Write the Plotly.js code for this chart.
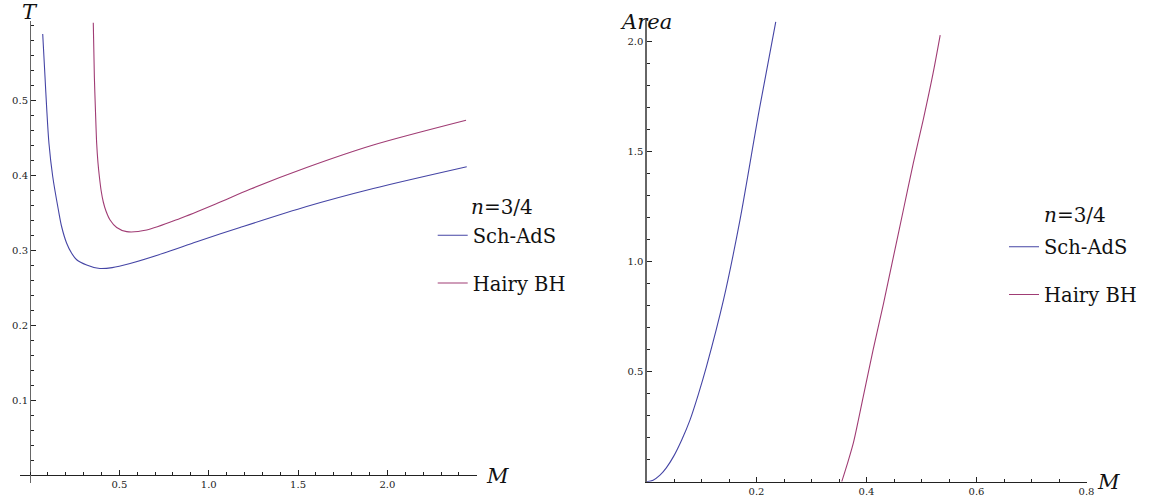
<!DOCTYPE html>
<html>
<head>
<meta charset="utf-8">
<script src="https://cdn.plot.ly/plotly-3.0.1.min.js"></script>
<style>
html,body{margin:0;padding:0;background:#fff;}
#chart{width:1151px;height:504px;}
</style>
</head>
<body>
<div id="chart"></div>
<script>
// ---- Data ----
// Left panel: temperature T versus mass M
const schM_T = [0.071, 0.084, 0.093, 0.106, 0.127, 0.159, 0.177, 0.205, 0.233, 0.261, 0.317, 0.382, 0.46, 0.560, 0.746, 0.933, 1.175, 1.548, 1.921, 2.444];
const schT    = [0.588, 0.530, 0.490, 0.442, 0.398, 0.353, 0.331, 0.309, 0.2956, 0.287, 0.280, 0.2756, 0.2765, 0.282, 0.2956, 0.311, 0.330, 0.358, 0.382, 0.411];
const hairyM_T = [0.354, 0.360, 0.366, 0.373, 0.380, 0.388, 0.398, 0.410, 0.425, 0.448, 0.485, 0.541, 0.653, 0.839, 1.045, 1.231, 1.548, 1.921, 2.440];
const hairyT    = [0.603, 0.531, 0.487, 0.442, 0.417, 0.398, 0.379, 0.364, 0.352, 0.340, 0.330, 0.3245, 0.3267, 0.342, 0.362, 0.381, 0.410, 0.440, 0.473];

// Right panel: horizon area versus mass M
const schM_A = [0, 0.012, 0.0245, 0.036, 0.049, 0.064, 0.079, 0.094, 0.109, 0.140, 0.170, 0.205, 0.235];
const schArea = [0, 0.007, 0.03, 0.063, 0.114, 0.19, 0.28, 0.395, 0.523, 0.826, 1.19, 1.69, 2.09];
const hairyM_A = [0.355, 0.365, 0.376, 0.394, 0.412, 0.431, 0.449, 0.467, 0.485, 0.503, 0.521, 0.534];
const hairyArea = [0, 0.08, 0.175, 0.386, 0.599, 0.811, 1.023, 1.235, 1.447, 1.644, 1.856, 2.03];

// Series names and tick labels
const seriesNames = ["Sch-AdS", "Hairy BH"];
const legendTitle = "<i>n</i>=3/4";
const leftXTickVals = [0.5, 1.0, 1.5, 2.0];
const leftXTickText = ["0.5", "1.0", "1.5", "2.0"];
const leftYTickVals = [0.1, 0.2, 0.3, 0.4, 0.5];
const leftYTickText = ["0.1", "0.2", "0.3", "0.4", "0.5"];
const rightXTickVals = [0.2, 0.4, 0.6, 0.8];
const rightXTickText = ["0.2", "0.4", "0.6", "0.8"];
const rightYTickVals = [0.5, 1.0, 1.5, 2.0];
const rightYTickText = ["0.5", "1.0", "1.5", "2.0"];

// ---- Styling / layout ----
const W = 1151, H = 504;
const SERIF = "DejaVu Serif";
const BLUE = "#4545a5";
const PINK = "#a03c74";
const px = v => v / W;
const py = v => 1 - v / H;

const lineStyle = c => ({color: c, width: 1.1, shape: "spline", smoothing: 0.8});

const traces = [
  {x: schM_T, y: schT, name: seriesNames[0], mode: "lines", line: lineStyle(BLUE), xaxis: "x", yaxis: "y", legend: "legend", legendgroup: "a"},
  {x: hairyM_T, y: hairyT, name: seriesNames[1], mode: "lines", line: lineStyle(PINK), xaxis: "x", yaxis: "y", legend: "legend", legendgroup: "b"},
  {x: schM_A, y: schArea, name: seriesNames[0], mode: "lines", line: lineStyle(BLUE), xaxis: "x2", yaxis: "y2", legend: "legend2", legendgroup: "c"},
  {x: hairyM_A, y: hairyArea, name: seriesNames[1], mode: "lines", line: lineStyle(PINK), xaxis: "x2", yaxis: "y2", legend: "legend2", legendgroup: "d"}
];

const tickFont = {family: SERIF, size: 10, color: "#222"};
const axisBase = {
  showgrid: false, zeroline: false, showline: true,
  ticks: "inside", ticklen: 5, tickwidth: 1, tickcolor: "#222",
  tickfont: tickFont, tickmode: "array", fixedrange: true
};

const legendBase = {
  xanchor: "left", yanchor: "top",
  font: {family: SERIF, size: 19.5, color: "#111"},
  bgcolor: "rgba(0,0,0,0)", borderwidth: 0,
  traceorder: "grouped", tracegroupgap: 19.5, itemwidth: 30
};

const layout = {
  width: W, height: H,
  margin: {l: 0, r: 0, t: 0, b: 0},
  paper_bgcolor: "#fff", plot_bgcolor: "#fff",
  showlegend: true,
  font: {family: SERIF},
  xaxis: Object.assign({}, axisBase, {
    domain: [px(20.2), px(476.75)], range: [-0.055, 2.5],
    anchor: "free", position: py(475),
    tickvals: leftXTickVals, ticktext: leftXTickText,
    linecolor: "#222", linewidth: 1.2,
    minor: {dtick: 0.1, tick0: 0, ticklen: 3, ticks: "inside", tickcolor: "#222"}
  }),
  yaxis: Object.assign({}, axisBase, {
    domain: [py(483.25), py(21.25)], range: [-0.011, 0.605],
    anchor: "free", position: px(30),
    tickvals: leftYTickVals, ticktext: leftYTickText,
    linecolor: "#666", linewidth: 1.2,
    minor: {dtick: 0.02, tick0: 0, ticklen: 3, ticks: "inside", tickcolor: "#222"}
  }),
  xaxis2: Object.assign({}, axisBase, {
    domain: [px(646.5), px(1086.5)], range: [0, 0.8],
    anchor: "y2",
    tickvals: rightXTickVals, ticktext: rightXTickText,
    linecolor: "#222", linewidth: 1.2,
    minor: {dtick: 0.05, tick0: 0, ticklen: 3, ticks: "inside", tickcolor: "#222"}
  }),
  yaxis2: Object.assign({}, axisBase, {
    domain: [py(481.7), py(19.7)], range: [0, 2.1],
    anchor: "x2",
    tickvals: rightYTickVals, ticktext: rightYTickText,
    linecolor: "#666", linewidth: 1.2,
    minor: {dtick: 0.1, tick0: 0, ticklen: 3, ticks: "inside", tickcolor: "#222"}
  }),
  legend: Object.assign({}, legendBase, {x: px(432.7), y: py(216)}),
  legend2: Object.assign({}, legendBase, {x: px(1004), y: py(227.5)}),
  annotations: [
    {text: "<i>T</i>", x: px(29.7), y: py(11.5), xref: "paper", yref: "paper", xanchor: "center", yanchor: "middle", showarrow: false, font: {family: SERIF, size: 21, color: "#111"}},
    {text: "<i>M</i>", x: px(497), y: py(475.5), xref: "paper", yref: "paper", xanchor: "center", yanchor: "middle", showarrow: false, font: {family: SERIF, size: 21, color: "#111"}},
    {text: "<i>Area</i>", x: px(646), y: py(22), xref: "paper", yref: "paper", xanchor: "center", yanchor: "middle", showarrow: false, font: {family: SERIF, size: 21, color: "#111"}},
    {text: "<i>M</i>", x: px(1108.5), y: py(482), xref: "paper", yref: "paper", xanchor: "center", yanchor: "middle", showarrow: false, font: {family: SERIF, size: 21, color: "#111"}},
    {text: legendTitle, x: px(469), y: py(207), xref: "paper", yref: "paper", xanchor: "left", yanchor: "middle", showarrow: false, font: {family: SERIF, size: 20, color: "#111"}},
    {text: legendTitle, x: px(1041.7), y: py(215), xref: "paper", yref: "paper", xanchor: "left", yanchor: "middle", showarrow: false, font: {family: SERIF, size: 20, color: "#111"}}
  ]
};

Plotly.newPlot("chart", traces, layout, {displayModeBar: false, staticPlot: true});
</script>
</body>
</html>
